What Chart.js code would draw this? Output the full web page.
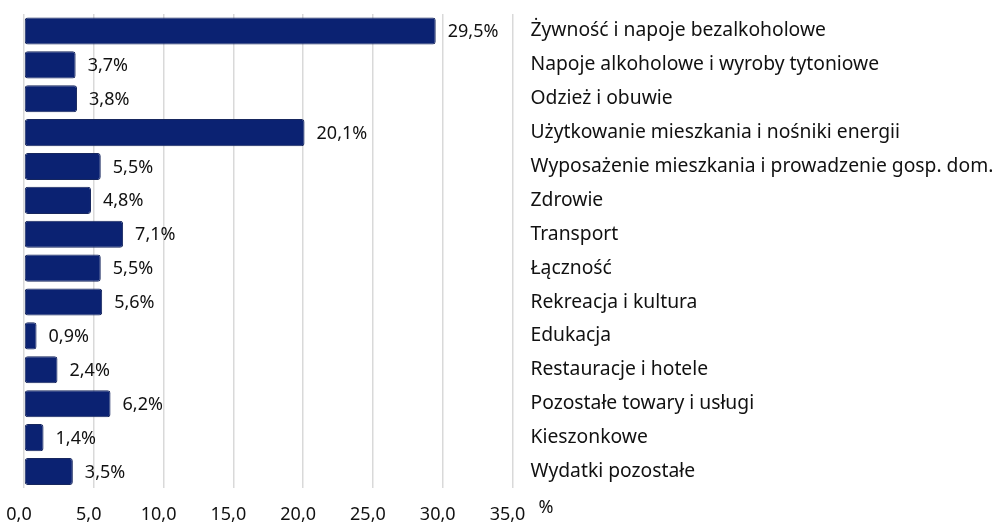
<!DOCTYPE html>
<html>
<head>
<meta charset="utf-8">
<script src="https://cdn.jsdelivr.net/npm/chart.js@4"></script>
<style>
  html, body { margin: 0; padding: 0; background: #fff; }
  #wrap { width: 992px; height: 524px; position: relative; }
</style>
</head>
<body>
<div id="wrap"><canvas id="myChart"></canvas></div>
<script>
const categories = [
  "Żywność i napoje bezalkoholowe",
  "Napoje alkoholowe i wyroby tytoniowe",
  "Odzież i obuwie",
  "Użytkowanie mieszkania i nośniki energii",
  "Wyposażenie mieszkania i prowadzenie gosp. dom.",
  "Zdrowie",
  "Transport",
  "Łączność",
  "Rekreacja i kultura",
  "Edukacja",
  "Restauracje i hotele",
  "Pozostałe towary i usługi",
  "Kieszonkowe",
  "Wydatki pozostałe"
];
const shares = [29.5, 3.7, 3.8, 20.1, 5.5, 4.8, 7.1, 5.5, 5.6, 0.9, 2.4, 6.2, 1.4, 3.5];
const unitLabel = "%";

const FONT = "'Noto Sans', sans-serif";

// value labels after each bar + the "%" unit next to the last tick
const labelsPlugin = {
  id: 'barLabels',
  afterDatasetsDraw(chart) {
    const ctx = chart.ctx;
    const meta = chart.getDatasetMeta(0);
    ctx.save();
    ctx.font = "18px " + FONT;
    ctx.fillStyle = "#111";
    ctx.textAlign = "left";
    ctx.textBaseline = "middle";
    meta.data.forEach((bar, i) => {
      const txt = shares[i].toFixed(1).replace('.', ',') + '%';
      ctx.fillText(txt, bar.x + 12, bar.y + 1);
    });
    const xs = chart.scales.x;
    const last = xs.getPixelForValue(xs.max);
    ctx.fillText(unitLabel, last + 26, chart.chartArea.bottom + 19);
    ctx.restore();
  }
};

new Chart(document.getElementById("myChart"), {
  type: 'bar',
  data: {
    labels: categories,
    datasets: [{
      data: shares,
      backgroundColor: '#0b2272',
      borderColor: '#17275e',
      borderWidth: 1,
      borderRadius: 3,
      borderSkipped: false,
      barPercentage: 0.8,
      categoryPercentage: 1.0
    }]
  },
  options: {
    indexAxis: 'y',
    responsive: true,
    maintainAspectRatio: false,
    animation: false,
    layout: { padding: { top: 14, left: 24, right: -9, bottom: -18 } },
    plugins: {
      legend: { display: false },
      tooltip: { enabled: false }
    },
    scales: {
      x: {
        min: 0,
        max: 35,
        afterFit(scale) {
          scale.paddingLeft = 0;
          scale.paddingRight = 0;
        },
        ticks: {
          stepSize: 5,
          padding: 16,
          labelOffset: -5,
          color: '#111',
          font: { family: FONT, size: 18 },
          callback: v => v.toFixed(1).replace('.', ',')
        },
        grid: { color: '#d9d9d9', lineWidth: 1.5, drawTicks: false },
        border: { display: false }
      },
      y: {
        position: 'right',
        afterFit(scale) {
          scale.paddingTop = 0;
          scale.paddingBottom = 0;
        },
        ticks: {
          padding: 18,
          color: '#111',
          font: { family: FONT, size: 19.3 }
        },
        grid: { display: false, drawTicks: false },
        border: { display: false }
      }
    }
  },
  plugins: [labelsPlugin]
});
</script>
</body>
</html>
